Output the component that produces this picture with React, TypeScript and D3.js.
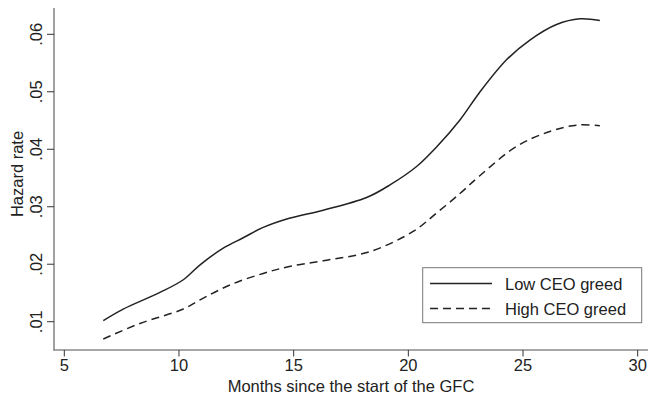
import React, { useEffect, useRef } from 'react';
import * as d3 from 'd3';

// months since start of GFC
const lowMonths = [6.7, 7.57, 9.17, 10.19, 10.92, 11.93, 12.8, 13.67, 14.81, 16.29, 18.18, 19.2, 20.36, 21.23, 22.25, 23.09, 24.29, 25.3, 26.46, 27.48, 28.35];
const lowHazard = [0.0102, 0.0122, 0.0151, 0.0173, 0.0199, 0.0228, 0.0246, 0.0264, 0.028, 0.0294, 0.0316, 0.0338, 0.037, 0.0404, 0.0451, 0.0498, 0.0556, 0.059, 0.0617, 0.0627, 0.0624];
const highMonths = [6.7, 8.3, 10.19, 10.92, 12.23, 13.67, 14.81, 16.29, 18.33, 20.21, 21.23, 22.25, 23.09, 24.72, 26.17, 27.34, 28.35];
const highHazard = [0.007, 0.0097, 0.0122, 0.0138, 0.0164, 0.0184, 0.0196, 0.0206, 0.0222, 0.0257, 0.0289, 0.0323, 0.0353, 0.0405, 0.0431, 0.0442, 0.0441];
const xTicks = [5, 10, 15, 20, 25, 30];
const yTicks = [0.01, 0.02, 0.03, 0.04, 0.05, 0.06];
const yTickLabels = ['.01', '.02', '.03', '.04', '.05', '.06'];
const seriesNames = ['Low CEO greed', 'High CEO greed'];

const App = () => {
  const ref = useRef<SVGSVGElement>(null);

  useEffect(() => {
    const width = 648;
    const height = 397;
    const font = '"Liberation Sans", Arial, sans-serif';
    const fs = '16.5px';

    const x = d3.scaleLinear().domain([5, 30]).range([64.3, 637.7]);
    const y = d3.scaleLinear().domain([0.01, 0.06]).range([321.7, 34.3]);

    const svg = d3.select(ref.current);
    svg.selectAll('*').remove();
    svg.attr('width', width).attr('height', height);

    svg.append('rect').attr('width', width).attr('height', height).attr('fill', '#fff');

    // axes lines
    svg.append('line')
      .attr('x1', 54).attr('x2', 54).attr('y1', 8).attr('y2', 350.5)
      .attr('stroke', '#8a8a8a').attr('stroke-width', 1.6);
    svg.append('line')
      .attr('x1', 53.2).attr('x2', 648).attr('y1', 350).attr('y2', 350)
      .attr('stroke', '#8a8a8a').attr('stroke-width', 1.6);

    // x ticks
    const xg = svg.append('g');
    xg.selectAll('line').data(xTicks).enter().append('line')
      .attr('x1', d => x(d)).attr('x2', d => x(d))
      .attr('y1', 350).attr('y2', 356.5)
      .attr('stroke', '#333').attr('stroke-width', 1);
    xg.selectAll('text').data(xTicks).enter().append('text')
      .attr('x', d => x(d)).attr('y', 371)
      .attr('text-anchor', 'middle')
      .style('font-family', font).style('font-size', fs).attr('fill', '#222')
      .text(d => d);

    // y ticks
    const yg = svg.append('g');
    yg.selectAll('line').data(yTicks).enter().append('line')
      .attr('x1', 47).attr('x2', 54)
      .attr('y1', d => y(d)).attr('y2', d => y(d))
      .attr('stroke', '#333').attr('stroke-width', 1);
    yg.selectAll('text').data(yTicks).enter().append('text')
      .attr('transform', d => `translate(42,${y(d)}) rotate(-90)`)
      .attr('text-anchor', 'middle')
      .style('font-family', font).style('font-size', fs).attr('fill', '#222')
      .text((d, i) => yTickLabels[i]);

    // axis titles
    svg.append('text')
      .attr('x', 351).attr('y', 392)
      .attr('text-anchor', 'middle')
      .style('font-family', font).style('font-size', fs).attr('fill', '#222')
      .text('Months since the start of the GFC');
    svg.append('text')
      .attr('transform', 'translate(23,174) rotate(-90)')
      .attr('text-anchor', 'middle')
      .style('font-family', font).style('font-size', fs).attr('fill', '#222')
      .text('Hazard rate');

    const line = d3.line<[number, number]>()
      .x(d => x(d[0]))
      .y(d => y(d[1]))
      .curve(d3.curveCatmullRom.alpha(0.5));

    const lowData = lowMonths.map((m, i) => [m, lowHazard[i]] as [number, number]);
    const highData = highMonths.map((m, i) => [m, highHazard[i]] as [number, number]);

    svg.append('path')
      .attr('d', line(lowData))
      .attr('fill', 'none').attr('stroke', '#222').attr('stroke-width', 1.5);
    svg.append('path')
      .attr('d', line(highData))
      .attr('fill', 'none').attr('stroke', '#222').attr('stroke-width', 1.5)
      .attr('stroke-dasharray', '8,5');

    // legend
    const lg = svg.append('g');
    lg.append('rect')
      .attr('x', 422.7).attr('y', 267.7).attr('width', 219).attr('height', 55)
      .attr('fill', '#fff').attr('stroke', '#777').attr('stroke-width', 1);
    seriesNames.forEach((name, i) => {
      const yy = 283.5 + i * 25;
      lg.append('line')
        .attr('x1', 430).attr('x2', 492).attr('y1', yy).attr('y2', yy)
        .attr('stroke', '#222').attr('stroke-width', 1.5)
        .attr('stroke-dasharray', i === 1 ? '8,5' : null);
      lg.append('text')
        .attr('x', 505).attr('y', yy + 6)
        .style('font-family', font).style('font-size', fs).attr('fill', '#222')
        .text(name);
    });
  }, []);

  return <svg ref={ref} style={{ position: 'absolute', left: 0, top: 0 }}></svg>;
};

export default App;
